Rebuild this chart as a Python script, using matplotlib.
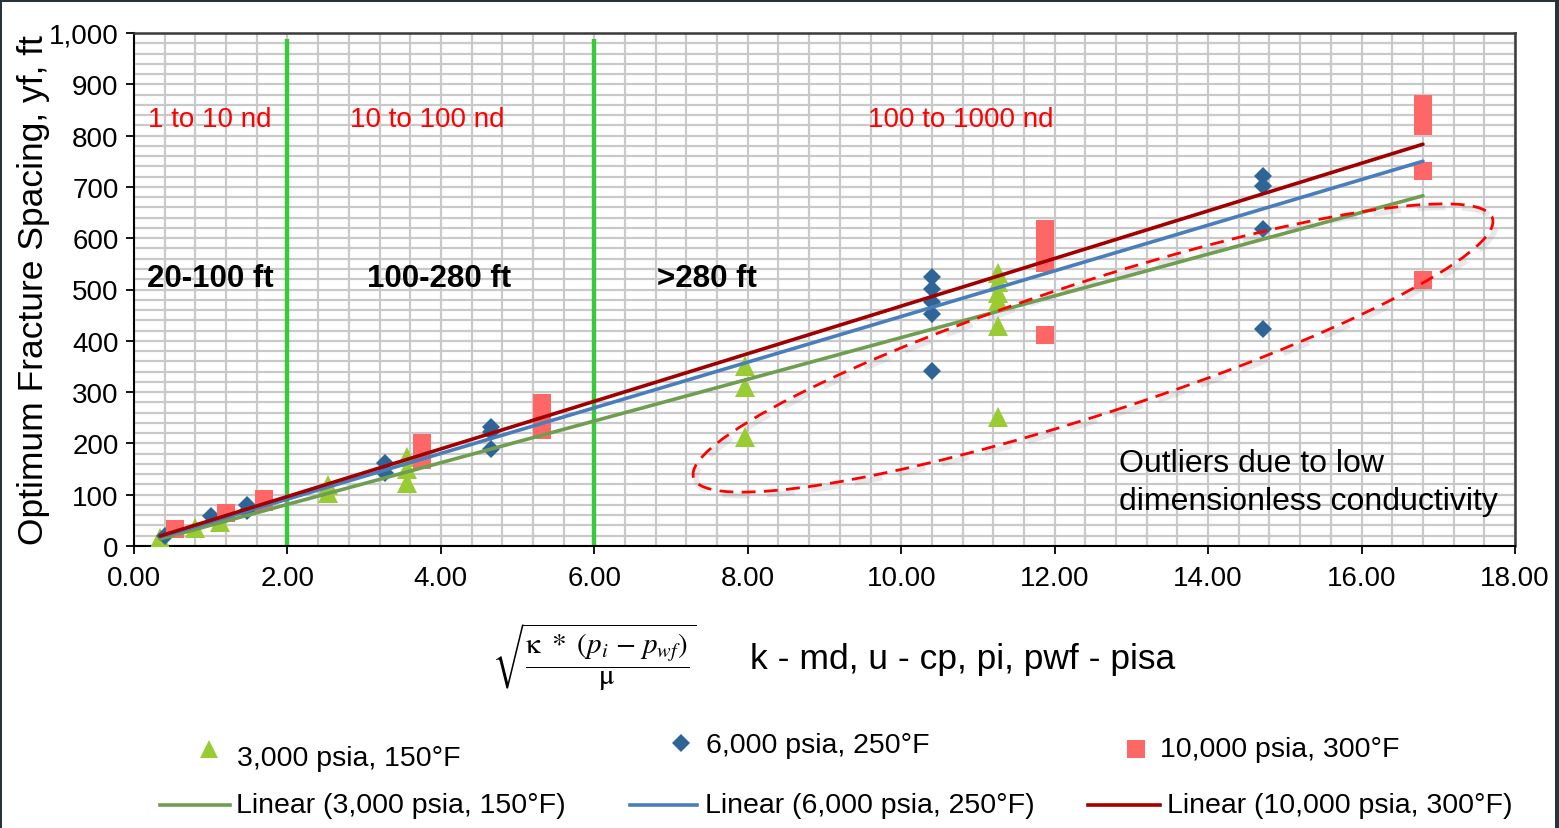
import numpy as np
import matplotlib
matplotlib.use("Agg")
import matplotlib.pyplot as plt
from matplotlib.patches import Ellipse, Rectangle
from matplotlib.lines import Line2D
from matplotlib.ticker import FuncFormatter, MultipleLocator

plt.rcParams["font.family"] = ["Liberation Sans", "DejaVu Sans"]
plt.rcParams["mathtext.fontset"] = "stix"

# ---- data -------------------------------------------------------------
series_names = ["3,000 psia, 150°F", "6,000 psia, 250°F", "10,000 psia, 300°F"]

x_3000 = [0.34, 0.80, 1.12, 2.53, 2.53, 3.56, 3.56, 3.56, 7.97, 7.97, 7.97,
          11.26, 11.26, 11.26, 11.26, 11.26, 11.26]
y_3000 = [15, 36, 46, 119, 103, 173, 151, 123, 351, 309, 212,
          533, 514, 494, 478, 429, 251]

x_6000 = [0.40, 1.01, 1.47, 1.47, 3.27, 3.27, 4.65, 4.65, 4.65,
          10.40, 10.40, 10.40, 10.40, 10.40, 14.72, 14.72, 14.72, 14.72]
y_6000 = [20, 59, 80, 68, 161, 142, 232, 223, 190,
          524, 501, 475, 452, 342, 722, 702, 618, 423]

x_10000 = [0.54, 1.20, 1.69, 1.69, 3.76, 3.76, 3.76, 5.32, 5.32, 5.32, 5.32,
           11.88, 11.88, 11.88, 11.88, 11.88, 11.88,
           16.80, 16.80, 16.80, 16.80, 16.80]
y_10000 = [33, 65, 85, 91, 168, 184, 200, 226, 243, 260, 278,
           551, 568, 585, 602, 618, 411,
           818, 840, 862, 731, 519]

# linear trendlines (slope, intercept) and their x extent
trend_slope = [40.65, 44.5, 46.4]
trend_intercept = [-0.2, 2.4, 3.7]
trend_x_range = [0.34, 16.80]

# region boundaries and labels
boundary_x = [2.0, 6.0]
nd_labels = ["1 to 10 nd", "10 to 100 nd", "100 to 1000 nd"]
nd_label_x = [0.18, 2.82, 9.57]
spacing_labels = ["20-100 ft", "100-280 ft", ">280 ft"]
spacing_label_x = [0.17, 3.04, 6.82]

# ---- figure -----------------------------------------------------------
W, H = 1559, 829
fig = plt.figure(figsize=(W / 100, H / 100), dpi=100)
fig.patch.set_facecolor("white")


def fx(px):
    return px / W


def fy(py):
    return 1 - py / H


ax = fig.add_axes([fx(134), fy(547), (1515 - 134) / W, (547 - 34) / H])
ax.set_xlim(0, 18)
ax.set_ylim(0, 1000)

ax.xaxis.set_major_locator(MultipleLocator(2))
ax.xaxis.set_minor_locator(MultipleLocator(0.4))
ax.yaxis.set_major_locator(MultipleLocator(100))
ax.yaxis.set_minor_locator(MultipleLocator(20))
ax.xaxis.set_major_formatter(FuncFormatter(lambda v, p: f"{v:.2f}"))
ax.yaxis.set_major_formatter(FuncFormatter(lambda v, p: f"{v:,.0f}"))

ax.grid(which="both", color="#c9c9c9", linewidth=1.6, zorder=0)
ax.set_axisbelow(True)
ax.tick_params(which="minor", length=0)
ax.tick_params(axis="x", which="major", direction="out", length=6, width=1.3,
               labelsize=20, pad=8, colors="black")
ax.tick_params(axis="y", which="major", direction="out", length=6, width=1.3,
               labelsize=20, pad=5, colors="black")
for s in ["left", "bottom"]:
    ax.spines[s].set_color("black")
    ax.spines[s].set_linewidth(1.5)
for s in ["top", "right"]:
    ax.spines[s].set_color("#3a3a3a")
    ax.spines[s].set_linewidth(1.8)

# region boundaries
for bx in boundary_x:
    ax.plot([bx, bx], [0, 988], color="#3cc83c", linewidth=3.2, zorder=2,
            solid_capstyle="butt")

# scatter series
green_c, blue_c, pink_c = "#99cc33", "#2f6497", "#ff6666"
ax.plot(x_3000, y_3000, linestyle="none", marker="^", markersize=14,
        color=green_c, markeredgewidth=0, zorder=3)
ax.plot(x_6000, y_6000, linestyle="none", marker="D", markersize=9.5,
        color=blue_c, markeredgewidth=0, zorder=4)
ax.plot(x_10000, y_10000, linestyle="none", marker="s", markersize=12.7,
        color=pink_c, markeredgewidth=0, zorder=5)

# trendlines
trend_colors = ["#6f9e50", "#4a7ebb", "#a00000"]
tx = np.array(trend_x_range)
for m, b, c in zip(trend_slope, trend_intercept, trend_colors):
    ax.plot(tx, m * tx + b, color=c, linewidth=2.6, zorder=6,
            solid_capstyle="round")

# region annotations
for lab, x in zip(nd_labels, nd_label_x):
    ax.text(x, 819, lab, color="#ff0000", fontsize=20, ha="left",
            va="baseline", zorder=7)
for lab, x in zip(spacing_labels, spacing_label_x):
    ax.text(x, 506, lab, color="black", fontsize=22.5, fontweight="bold",
            ha="left", va="baseline", zorder=7)

ax.text(12.84, 147, "Outliers due to low", fontsize=23, ha="left",
        va="baseline", zorder=7)
ax.text(12.84, 72, "dimensionless conductivity", fontsize=23, ha="left",
        va="baseline", zorder=7)

# dashed outlier ellipse with a soft shadow
ecx, ecy = 1093 / 100, (H - 349) / 100
for dx, dy, col, alpha, lw in [(0.03, -0.035, "#8a8a8a", 0.18, 4.0),
                               (0.0, 0.0, "#ff0000", 1.0, 2.0)]:
    e = Ellipse((ecx + dx, ecy + dy), 8.40, 1.32, angle=18.0,
                transform=fig.dpi_scale_trans, fill=False, edgecolor=col,
                linewidth=lw, alpha=alpha, linestyle=(0, (5, 3)), zorder=8)
    fig.add_artist(e)

# axis titles
fig.text(fx(34), fy(290), "Optimum Fracture Spacing, yf, ft", rotation=90,
         fontsize=25.5, ha="center", va="center")
fig.text(fx(594), fy(657),
         r"$\sqrt{\dfrac{\mathrm{\kappa}\ *\ (p_i\ \mathrm{-}\ p_{wf})}{\mathrm{\mu}}}$",
         fontsize=21, ha="center", va="center")
fig.text(fx(750), fy(659), "k - md, u - cp, pi, pwf - pisa", fontsize=25.5,
         ha="left", va="center")

# legend
marker_specs = [("^", 13, green_c, 209, 750, 237, 759),
                ("D", 9, blue_c, 681, 744, 706, 746),
                ("s", 12.7, pink_c, 1136, 750, 1160, 750)]
for (mk, ms, col, mx, my, tx_, ty), name in zip(marker_specs, series_names):
    fig.add_artist(Line2D([fx(mx)], [fy(my)], marker=mk, markersize=ms,
                          color=col, markeredgewidth=0, linestyle="none",
                          transform=fig.transFigure))
    fig.text(fx(tx_), fy(ty), name, fontsize=20.5, ha="left", va="center")

line_specs = [(160, 230, 236), (630, 697, 705), (1088, 1160, 1167)]
for (x0, x1, tx_), col, name in zip(line_specs, trend_colors, series_names):
    fig.add_artist(Line2D([fx(x0), fx(x1)], [fy(806), fy(806)], color=col,
                          linewidth=2.6, transform=fig.transFigure))
    fig.text(fx(tx_), fy(806), f"Linear ({name})", fontsize=20.5, ha="left",
             va="center")

# dark frame around the slide
frame_c = "#29333d"
for (x0, y0, w, h) in [(0, H - 3, W, 3), (0, 0, 2, H), (W - 4, 0, 4, H)]:
    fig.add_artist(Rectangle((x0 / W, y0 / H), w / W, h / H,
                             transform=fig.transFigure, color=frame_c,
                             linewidth=0, zorder=20))

fig.savefig("out.png", dpi=100)
